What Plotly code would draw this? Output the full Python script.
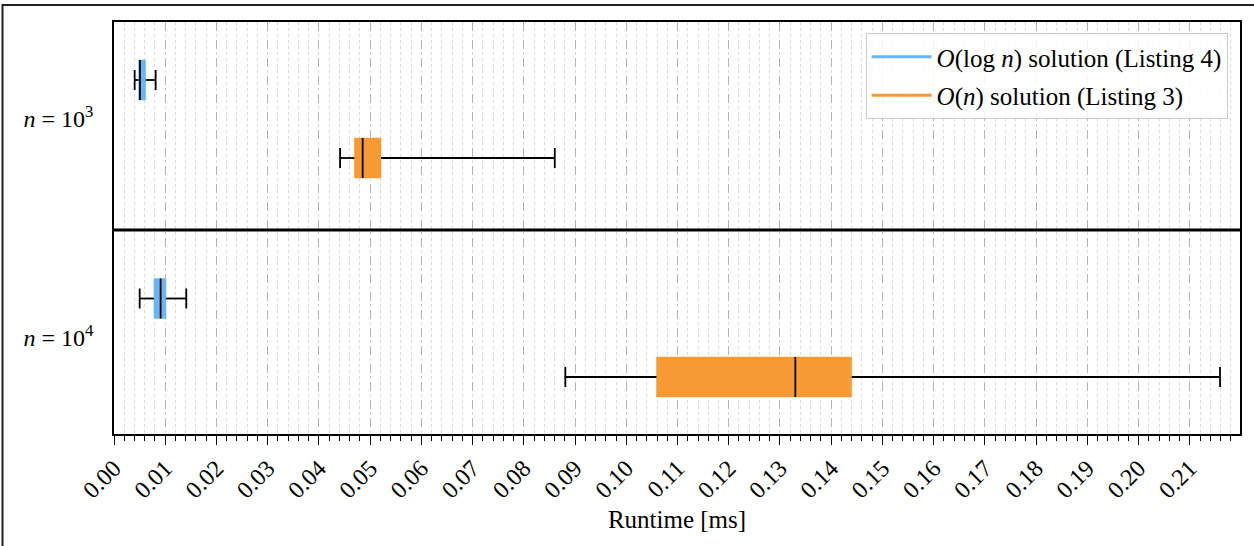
import plotly.graph_objects as go

# ---- data (runtime in ms) ----
groups = ["<i>n</i> = 10<sup>3</sup>", "<i>n</i> = 10<sup>4</sup>"]
series_names = ["<i>O</i>(log <i>n</i>) solution (Listing 4)",
                "<i>O</i>(<i>n</i>) solution (Listing 3)"]

# O(log n) solution, per group
logn_low = [0.00403, 0.00501]
logn_q1 = [0.00481, 0.00780]
logn_med = [0.00507, 0.00910]
logn_q3 = [0.00618, 0.01014]
logn_high = [0.00813, 0.01411]

# O(n) solution, per group
lin_low = [0.04413, 0.08810]
lin_q1 = [0.04692, 0.10590]
lin_med = [0.04854, 0.13300]
lin_q3 = [0.05212, 0.14400]
lin_high = [0.08604, 0.21590]

tick_vals = [i / 100 for i in range(22)]
tick_text = [f"{v:.2f}" for v in tick_vals]

# ---- layout constants ----
BLUE = "#69B6F3"
ORANGE = "#F99B35"
FONT = "Liberation Serif, Times New Roman, Times, serif"
pos_logn = [58, 276.5]
pos_lin = [136, 355]
group_centers = [97, 315.75]
BOX_W = 40
CAP_W = 20
SEP_Y = 208

fig = go.Figure()


def add_series(name, color, pos, low, q1, med, q3, high, legendgroup):
    fig.add_trace(go.Box(
        orientation="h", y=pos, q1=q1, median=med, q3=q3,
        lowerfence=q1, upperfence=q3,
        fillcolor=color, line=dict(color=color, width=0.5),
        width=BOX_W, whiskerwidth=0, showlegend=False, hoverinfo="skip",
    ))
    xs, ys = [], []
    for p, lo, a, m, b, hi in zip(pos, low, q1, med, q3, high):
        # whiskers
        xs += [lo, a, None, b, hi, None]
        ys += [p, p, None, p, p, None]
        # caps
        xs += [lo, lo, None, hi, hi, None]
        ys += [p - CAP_W / 2, p + CAP_W / 2, None, p - CAP_W / 2, p + CAP_W / 2, None]
        # median
        xs += [m, m, None]
        ys += [p - BOX_W / 2, p + BOX_W / 2, None]
    fig.add_trace(go.Scatter(x=xs, y=ys, mode="lines",
                             line=dict(color="black", width=1.8),
                             showlegend=False, hoverinfo="skip"))
    # legend handle
    fig.add_trace(go.Scatter(x=[None], y=[None], mode="lines", name=name,
                             line=dict(color=color, width=3),
                             legendgroup=legendgroup))


add_series(series_names[0], BLUE, pos_logn, logn_low, logn_q1, logn_med,
           logn_q3, logn_high, "a")
add_series(series_names[1], ORANGE, pos_lin, lin_low, lin_q1, lin_med,
           lin_q3, lin_high, "b")

fig.update_layout(
    width=1254, height=546,
    margin=dict(l=114, r=12, t=22, b=112),
    paper_bgcolor="white", plot_bgcolor="white",
    font=dict(family=FONT, size=24, color="black"),
    boxmode="overlay",
    showlegend=True,
    legend=dict(
        x=0.989, y=0.973, xanchor="right", yanchor="top",
        bgcolor="rgba(255,255,255,0.85)", bordercolor="#cccccc", borderwidth=1,
        font=dict(family=FONT, size=25), tracegroupgap=3, itemwidth=60,
    ),
    xaxis=dict(
        range=[0, 0.2198], tickvals=tick_vals, ticktext=tick_text,
        tickangle=-45, tickfont=dict(family=FONT, size=24),
        ticks="outside", ticklen=9, tickwidth=1.3, tickcolor="black",
        showline=True, linecolor="black", linewidth=1.5, mirror=True,
        showgrid=True, gridcolor="#b4b4b4", griddash="dash", gridwidth=1,
        zeroline=False,
        minor=dict(dtick=0.002, tick0=0, ticks="outside", ticklen=5,
                   tickwidth=1, tickcolor="black", showgrid=True,
                   gridcolor="#d9d9d9", griddash="dot", gridwidth=1),
        title=dict(text="Runtime [ms]", font=dict(family=FONT, size=25), standoff=8),
    ),
    yaxis=dict(
        range=[412, 0], tickvals=group_centers, ticktext=groups,
        ticks="", showgrid=False, zeroline=False,
        showline=True, linecolor="black", linewidth=1.5, mirror=True,
        tickfont=dict(family=FONT, size=24), ticklabelstandoff=14,
    ),
    shapes=[
        dict(type="line", xref="paper", yref="y", x0=0, x1=1, y0=SEP_Y, y1=SEP_Y,
             line=dict(color="black", width=2.8)),
        dict(type="rect", xref="paper", yref="paper",
             x0=(2.3 - 114) / 1128, x1=1.3, y0=-0.5, y1=(434 - 5) / 412,
             line=dict(color="#222222", width=2), layer="above"),
    ],
)

fig.write_html("out.html")
